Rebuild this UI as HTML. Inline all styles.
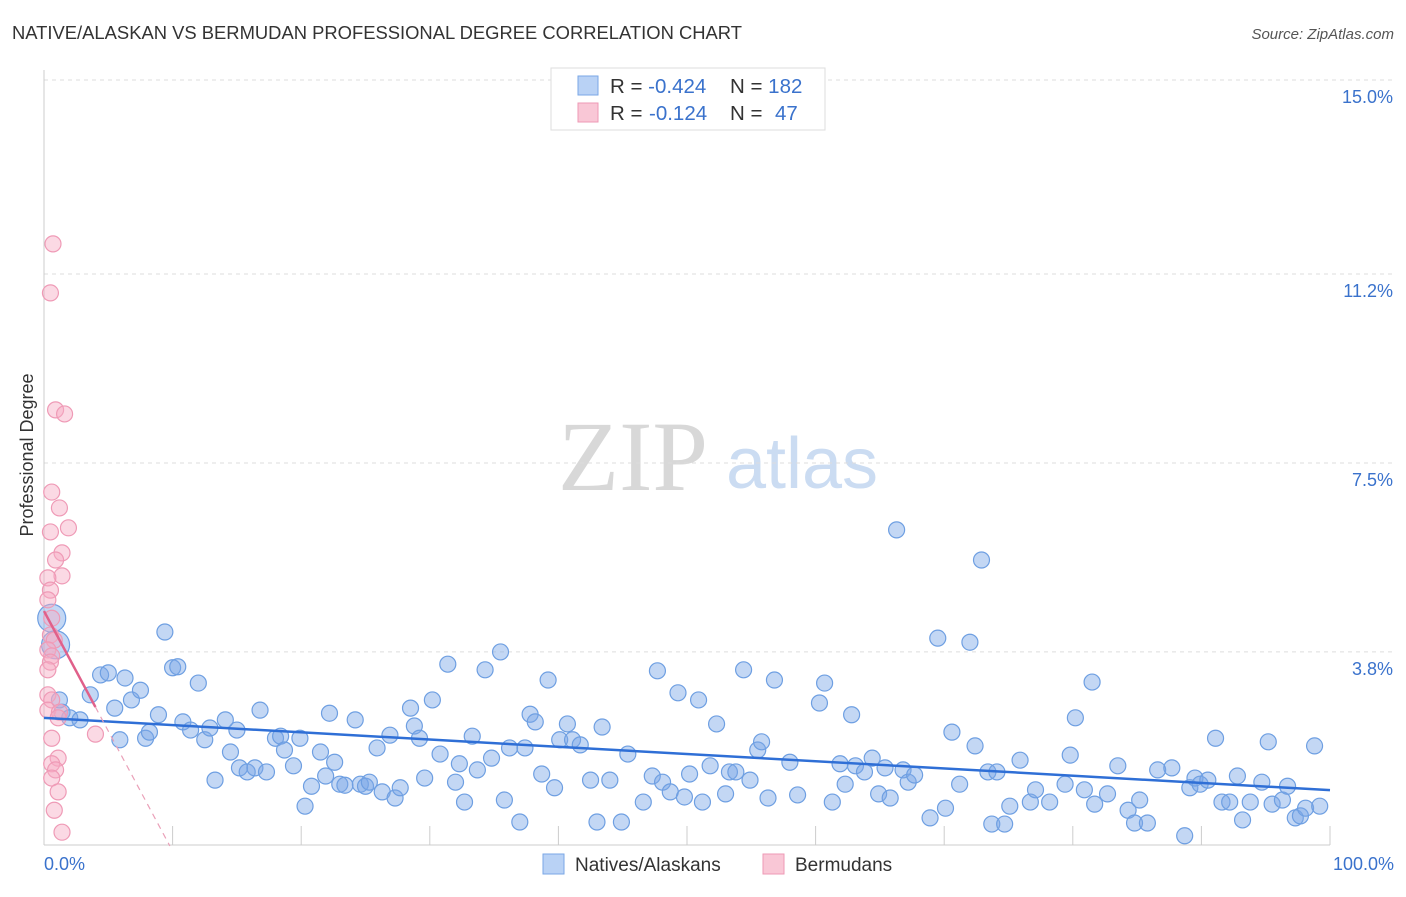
<!DOCTYPE html>
<html><head><meta charset="utf-8"><style>
body{margin:0;background:#fff;font-family:"Liberation Sans",sans-serif;}
svg text{font-family:"Liberation Sans",sans-serif;}
</style></head><body>
<svg id="c" width="1406" height="892" xmlns="http://www.w3.org/2000/svg">
<text x="12" y="39" font-size="18.4" fill="#333">NATIVE/ALASKAN VS BERMUDAN PROFESSIONAL DEGREE CORRELATION CHART</text>
<text x="1394" y="39" font-size="15" fill="#555" font-style="italic" text-anchor="end">Source: ZipAtlas.com</text>
<text x="633" y="490" font-size="100" fill="#d8d8d8" style="font-family:'Liberation Serif',serif" text-anchor="middle">ZIP</text>
<text x="802" y="488" font-size="72" fill="#cbdcf2" text-anchor="middle">atlas</text>
<g id="grid"></g>
<g id="xt"></g>
<line x1="44" y1="70" x2="44" y2="845" stroke="#ccc"/>
<line x1="44" y1="845" x2="1330" y2="845" stroke="#ccc"/>
<text x="33" y="455" font-size="18" fill="#333" text-anchor="middle" transform="rotate(-90 33 455)">Professional Degree</text>
<text x="44" y="870" font-size="18" fill="#3a72cc">0.0%</text>
<text x="1394" y="870" font-size="18" fill="#3a72cc" text-anchor="end">100.0%</text>
<g id="pts"></g>
<g>
<rect x="551" y="68" width="274" height="62" fill="#fff" stroke="#ddd"/>
<rect x="578" y="76" width="20" height="19" fill="#b9d2f5" stroke="#7aa7e6"/>
<rect x="578" y="103" width="20" height="19" fill="#f9c7d6" stroke="#ee9ab5"/>
<text x="610" y="93" font-size="20.5" fill="#333">R = <tspan fill="#3a72cc">-0.424</tspan><tspan x="730">N = </tspan><tspan fill="#3a72cc">182</tspan></text>
<text x="610" y="120" font-size="20.5" fill="#333">R = <tspan fill="#3a72cc" x="649">-0.124</tspan><tspan x="730">N = </tspan><tspan fill="#3a72cc" x="775">47</tspan></text>
</g>
<g>
<rect x="543" y="854" width="21" height="20" fill="#b9d2f5" stroke="#7aa7e6"/>
<text x="575" y="871" font-size="19" fill="#333">Natives/Alaskans</text>
<rect x="763" y="854" width="21" height="20" fill="#f9c7d6" stroke="#ee9ab5"/>
<text x="795" y="871" font-size="19" fill="#333">Bermudans</text>
</g>
</svg>
<script>
const yTicks=[3.8,7.5,11.2,15.0];
const yTickLabels=["3.8%","7.5%","11.2%","15.0%"];
const xTicks=[0,10,20,30,40,50,60,70,80,90,100];
const blueX=[0.6,0.9,1.2,1.4,2.0,2.8,3.6,4.4,5.0,5.5,5.9,6.3,6.8,7.5,7.9,8.2,8.9,9.4,10.0,10.4,10.8,11.4,12.0,12.5,12.9,13.3,14.1,14.5,15.0,15.2,15.8,16.4,16.8,17.3,18.0,18.4,18.7,19.4,19.9,20.3,20.8,21.5,21.9,22.2,22.6,23.0,23.4,24.2,24.6,25.0,25.3,25.9,26.3,26.9,27.3,27.7,28.5,28.8,29.2,29.6,30.2,30.8,31.4,32.0,32.3,32.7,33.3,33.7,34.3,34.8,35.5,35.8,36.2,37.0,37.4,37.8,38.2,38.7,39.2,39.7,40.1,40.7,41.1,41.7,42.5,43.0,43.4,44.0,44.9,45.4,46.6,47.3,47.7,48.1,48.7,49.3,49.8,50.2,50.9,51.2,51.8,52.3,53.0,53.3,53.8,54.4,54.9,55.5,55.8,56.3,56.8,58.0,58.6,60.3,60.7,61.3,61.9,62.3,62.8,63.1,63.8,64.4,64.9,65.4,65.8,66.3,66.8,67.2,67.7,68.9,69.5,70.1,70.6,71.2,72.0,72.4,72.9,73.4,73.7,74.1,74.7,75.1,75.9,76.7,77.1,78.2,79.4,79.8,80.2,80.9,81.5,81.7,82.7,83.5,84.3,84.8,85.2,85.8,86.6,87.7,88.7,89.1,89.5,89.9,90.5,91.1,91.6,92.2,92.8,93.2,93.8,94.7,95.2,95.5,96.3,96.7,97.3,97.7,98.1,98.8,99.2];
const blueY=[4.46,3.94,2.86,2.62,2.51,2.47,2.96,3.35,3.39,2.70,2.08,3.29,2.86,3.05,2.11,2.23,2.57,4.19,3.49,3.51,2.43,2.27,3.19,2.08,2.31,1.29,2.47,1.84,2.27,1.53,1.45,1.53,2.66,1.45,2.11,2.15,1.88,1.57,2.11,0.78,1.17,1.84,1.37,2.60,1.64,1.21,1.19,2.47,1.21,1.17,1.25,1.92,1.06,2.17,0.94,1.14,2.70,2.35,2.11,1.33,2.86,1.80,3.56,1.25,1.61,0.86,2.15,1.49,3.45,1.72,3.80,0.90,1.92,0.47,1.92,2.58,2.43,1.41,3.25,1.14,2.08,2.39,2.08,1.98,1.29,0.47,2.33,1.29,0.47,1.80,0.86,1.37,3.43,1.25,1.06,3.00,0.96,1.41,2.86,0.86,1.57,2.39,1.02,1.45,1.45,3.45,1.29,1.88,2.04,0.94,3.25,1.64,1.00,2.80,3.19,0.86,1.61,1.21,2.57,1.57,1.45,1.72,1.02,1.53,0.94,6.19,1.49,1.25,1.39,0.55,4.07,0.74,2.23,1.21,3.99,1.96,5.60,1.45,0.43,1.45,0.43,0.78,1.68,0.86,1.10,0.86,1.21,1.78,2.51,1.10,3.21,0.82,1.02,1.57,0.70,0.45,0.90,0.45,1.49,1.53,0.20,1.14,1.33,1.21,1.29,2.11,0.86,0.86,1.37,0.51,0.86,1.25,2.04,0.82,0.90,1.17,0.55,0.59,0.74,1.96,0.78];
const pinkX=[0.7,0.5,0.9,1.6,0.6,1.2,1.9,0.5,1.4,0.9,1.4,0.3,0.5,0.3,0.6,0.5,0.8,0.3,0.6,0.5,0.3,0.3,0.6,0.3,1.2,1.1,4.0,0.6,1.1,0.6,0.9,0.6,1.1,0.8,1.4];
const pinkY=[11.79,10.83,8.54,8.46,6.93,6.62,6.23,6.15,5.74,5.60,5.29,5.25,5.01,4.82,4.46,4.13,4.03,3.84,3.72,3.60,3.45,2.96,2.86,2.66,2.62,2.51,2.19,2.11,1.72,1.61,1.49,1.33,1.06,0.70,0.27];
const pinkTrend=[4.6,-0.47];
const bigIdx=[0,1];
const X0=44,X1=1330,Y0=846,PXY=51.07;
const sx=v=>X0+v/100*(X1-X0);
const sy=v=>Y0-v*PXY;
const NS="http://www.w3.org/2000/svg";
function mk(t,a,p){const e=document.createElementNS(NS,t);for(const k in a)e.setAttribute(k,a[k]);p.appendChild(e);return e;}
const grid=document.getElementById('grid');
yTicks.forEach((t,i)=>{
 const l=mk('line',{x1:44,x2:1394,y1:sy(t),y2:sy(t),stroke:'#ddd','stroke-dasharray':'4 4'},grid);
 
 
 const tx=mk('text',{x:1393,y:sy(t)+23,'font-size':18,fill:'#3a72cc','text-anchor':'end'},grid);
 tx.textContent=yTickLabels[i];
 
 
});
const xt=document.getElementById('xt');
xTicks.forEach(t=>{
 const l=mk('line',{x1:sx(t),x2:sx(t),y1:826,y2:845,stroke:'#ccc'},xt);
 
 
});
const pts=document.getElementById('pts');
blueX.forEach((x,i)=>{
 const big=bigIdx.includes(i);
 const c=mk('circle',{cx:sx(x),cy:sy(blueY[i]),r:big?14:8,fill:'rgba(122,167,230,0.45)',stroke:'#6e9fe2','stroke-width':1.2},pts);
 
 
});
pinkX.forEach((x,i)=>{
 const c=mk('circle',{cx:sx(x),cy:sy(pinkY[i]),r:8,fill:'rgba(246,170,196,0.45)',stroke:'#ef9ab6','stroke-width':1.2},pts);
 
 
});
function reg(X,Y){const n=X.length;let mx=0,my=0;X.forEach((v,i)=>{mx+=v;my+=Y[i]});mx/=n;my/=n;let sxy=0,sxx=0;X.forEach((v,i)=>{sxy+=(v-mx)*(Y[i]-my);sxx+=(v-mx)*(v-mx)});const b=sxy/sxx;return [my-b*mx,b];}
const [ba,bb]=reg(blueX,blueY);
let l=mk('line',{x1:sx(0),y1:sy(ba),x2:sx(100),y2:sy(ba+bb*100),stroke:'#2f6fd6','stroke-width':2.5},pts);


const [pa,pb]=pinkTrend;
const xmax=Math.max(...pinkX);
l=mk('line',{x1:sx(0),y1:sy(pa),x2:sx(xmax),y2:sy(pa+pb*xmax),stroke:'#e0608a','stroke-width':2.5},pts);


const xz=pb<0?Math.min(-pa/pb,100):100;
l=mk('line',{x1:sx(xmax),y1:sy(pa+pb*xmax),x2:sx(xz),y2:sy(pa+pb*xz),stroke:'#eaa0b8','stroke-width':1.2,'stroke-dasharray':'6 5'},pts);


</script>
</body></html>
